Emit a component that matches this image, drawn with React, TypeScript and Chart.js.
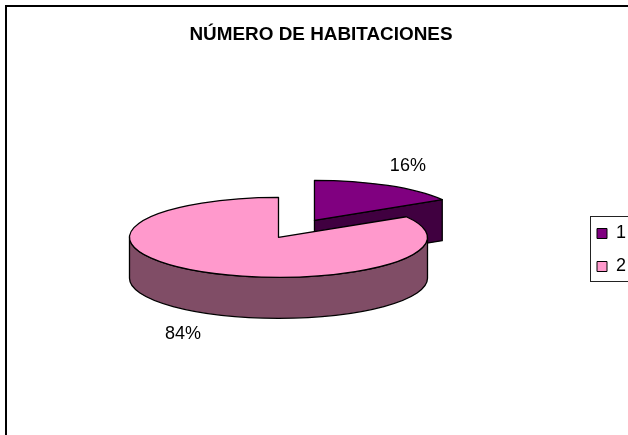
import React, { useEffect, useRef } from "react";
import { Chart, registerables } from "chart.js";

Chart.register(...registerables);

const TITLE = "NÚMERO DE HABITACIONES";
const categories = ["1", "2"];
const values = [16.4, 83.6];
const topColors = ["#800080", "#FF99CC"];
const wallColors = ["#400040", "#804D66"];
const explode = [73, 0];

const FONT = "'Liberation Sans', Arial, sans-serif";
const RADIUS = 149;
const SQUASH = 40 / 149;
const DEPTH = 41;

const pie3d = {
  id: "pie3d",
  beforeDraw(chart: any) {
    const { ctx } = chart;
    ctx.save();
    ctx.fillStyle = "#fff";
    ctx.fillRect(0, 0, chart.width, chart.height);
    ctx.strokeStyle = "#000";
    ctx.lineWidth = 2;
    ctx.strokeRect(6, 6, 800, 600);
    ctx.lineWidth = 1;
    ctx.strokeStyle = "#222";
    ctx.strokeRect(590.5, 216.5, 200, 65);
    ctx.restore();
  },
  afterLayout(chart: any) {
    const l = chart.legend;
    const pad = l.options.labels.padding;
    l.left = 597 - pad;
    l.right = l.left + l.width;
    const h = l.height;
    l.top = 250 - h / 2;
    l.bottom = l.top + h;
    chart.titleBlock.left = 0;
    chart.titleBlock.right = chart.width;
  },
  beforeDatasetDraw(chart: any, args: any) {
    const { ctx } = chart;
    const arcs = args.meta.data;
    const total = values.reduce((a, b) => a + b, 0);
    ctx.save();
    ctx.lineWidth = 1.3;
    ctx.strokeStyle = "#000";
    ctx.lineJoin = "round";
    arcs.forEach((arc: any, i: number) => {
      const a0 = arc.startAngle;
      const a1 = arc.endAngle;
      const mid = (a0 + a1) / 2;
      const r = arc.outerRadius;
      const off = arc.options.offset || 0;
      const cx = arc.x + Math.cos(mid) * off;
      const cy = arc.y + Math.sin(mid) * off * SQUASH;
      const px = (a: number) => cx + Math.cos(a) * r;
      const py = (a: number) => cy + Math.sin(a) * r * SQUASH;

      // cut faces turned toward the viewer
      ctx.fillStyle = wallColors[i];
      [
        { a: a1, show: Math.cos(a1) > 1e-6 },
        { a: a0, show: Math.cos(a0) < -1e-6 },
      ].forEach(({ a, show }) => {
        if (!show) return;
        ctx.beginPath();
        ctx.moveTo(cx, cy);
        ctx.lineTo(px(a), py(a));
        ctx.lineTo(px(a), py(a) + DEPTH);
        ctx.lineTo(cx, cy + DEPTH);
        ctx.closePath();
        ctx.fill();
        ctx.stroke();
      });

      // outer rim, front half only
      for (const shift of [0, -2 * Math.PI, 2 * Math.PI]) {
        const s = Math.max(a0 + shift, 0);
        const e = Math.min(a1 + shift, Math.PI);
        if (e <= s) continue;
        ctx.beginPath();
        ctx.ellipse(cx, cy, r, r * SQUASH, 0, s, e);
        ctx.lineTo(px(e), py(e) + DEPTH);
        ctx.ellipse(cx, cy + DEPTH, r, r * SQUASH, 0, e, s, true);
        ctx.closePath();
        ctx.fill();
        ctx.stroke();
      }

      // top face
      ctx.fillStyle = topColors[i];
      ctx.beginPath();
      ctx.moveTo(cx, cy);
      ctx.ellipse(cx, cy, r, r * SQUASH, 0, a0, a1);
      ctx.closePath();
      ctx.fill();
      ctx.stroke();
    });

    // percentage labels
    ctx.fillStyle = "#000";
    ctx.font = `18px ${FONT}`;
    ctx.textAlign = "center";
    ctx.textBaseline = "middle";
    arcs.forEach((arc: any, i: number) => {
      const mid = (arc.startAngle + arc.endAngle) / 2;
      const off = arc.options.offset || 0;
      const s = Math.sin(mid);
      const c = Math.cos(mid);
      const x = arc.x + c * (off + arc.outerRadius) + (c > 0 ? 20 : -22);
      const y =
        arc.y + s * (off + arc.outerRadius) * SQUASH + Math.sign(s) * 20 + (s > 0 ? DEPTH : 0) + 1;
      ctx.fillText(`${Math.round((values[i] / total) * 100)}%`, x, y);
    });
    ctx.restore();
    return false;
  },
};

export default function App() {
  const ref = useRef<HTMLCanvasElement>(null);
  useEffect(() => {
    const chart = new Chart(ref.current as HTMLCanvasElement, {
      type: "pie",
      data: {
        labels: categories,
        datasets: [
          {
            data: values,
            backgroundColor: topColors,
            borderColor: "#000",
            borderWidth: 1,
            offset: explode,
          } as any,
        ],
      },
      options: {
        animation: false,
        responsive: false,
        radius: RADIUS,
        layout: { padding: { left: 0, right: 31, top: 13, bottom: 16 } },
        plugins: {
          title: {
            display: true,
            text: TITLE,
            color: "#000",
            font: { family: FONT, size: 18.9, weight: "bold" },
            padding: { top: 10, bottom: 10 },
          },
          legend: {
            position: "right",
            labels: {
              color: "#000",
              font: { family: FONT, size: 18 },
              boxWidth: 10,
              boxHeight: 10,
              padding: 15,
            },
          },
          tooltip: { enabled: false },
        },
      } as any,
      plugins: [pie3d as any],
    });
    return () => chart.destroy();
  }, []);
  return (
    <div style={{ position: "fixed", left: 0, top: 0, width: 628, height: 435, overflow: "hidden", background: "#fff" }}>
      <canvas ref={ref} width={642} height={435} style={{ display: "block" }} />
    </div>
  );
}
